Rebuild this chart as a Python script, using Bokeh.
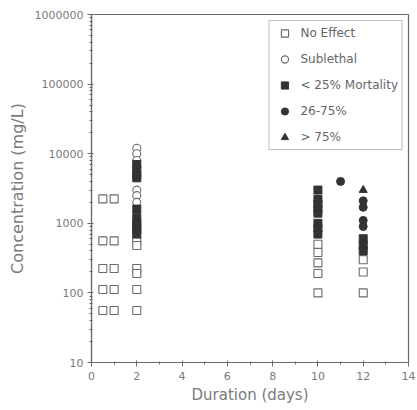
from bokeh.plotting import figure
from bokeh.models import Range1d, FixedTicker, BasicTickFormatter, Legend, LegendItem
from bokeh.embed import file_html
from bokeh.resources import INLINE

# --- data ---
no_effect_x = [0.5, 0.5, 0.5, 0.5, 0.5, 1, 1, 1, 1, 1, 2, 2, 2, 2, 2, 2, 10, 10, 10, 10, 10, 12, 12, 12]
no_effect_y = [2240, 560, 224, 112, 56, 2240, 560, 224, 112, 56, 560, 480, 224, 190, 112, 56,
               500, 380, 270, 190, 100, 300, 200, 100]
sublethal_x = [2, 2, 2, 2, 2, 2]
sublethal_y = [12000, 10000, 8000, 3000, 2500, 2000]
lt25_x = [2, 2, 2, 2, 2, 2, 2, 2, 2, 2, 10, 10, 10, 10, 10, 10, 10, 10, 12, 12, 12]
lt25_y = [7000, 6000, 5000, 4500, 1600, 1200, 1000, 900, 800, 700,
          3000, 2200, 1900, 1600, 1400, 1000, 850, 700, 600, 480, 400]
mid_x = [11, 12, 12, 12, 12]
mid_y = [4000, 2100, 1700, 1100, 900]
high_x = [12]
high_y = [3000]

x_ticks = [0, 2, 4, 6, 8, 10, 12, 14]
x_minor = [1, 3, 5, 7, 9, 11, 13]
y_ticks = [10, 100, 1000, 10000, 100000, 1000000]
y_minor = [m * d for d in [10, 100, 1000, 10000, 100000] for m in range(2, 10)]

FONT = "DejaVu Sans"
AX = "#6a6a6a"
TXT = "#7a7a7a"

p = figure(width=417, height=410, y_axis_type="log", output_backend="svg",
           toolbar_location=None, x_range=Range1d(0, 14), y_range=Range1d(10, 1000000),
           min_border_left=91, min_border_right=9, min_border_top=14, min_border_bottom=48)

p.xgrid.visible = False
p.ygrid.visible = False
p.outline_line_color = AX
p.outline_line_width = 1.2
p.background_fill_color = "white"
p.border_fill_color = "white"

p.xaxis.ticker = FixedTicker(ticks=x_ticks, minor_ticks=x_minor)
p.yaxis.ticker = FixedTicker(ticks=y_ticks, minor_ticks=y_minor)
p.yaxis.formatter = BasicTickFormatter(use_scientific=False)

for ax in (p.xaxis, p.yaxis):
    ax.axis_line_color = AX
    ax.axis_line_width = 1.2
    ax.major_tick_line_color = AX
    ax.minor_tick_line_color = AX
    ax.major_tick_in = 2
    ax.major_tick_out = 4
    ax.minor_tick_in = 1
    ax.minor_tick_out = 2
    ax.major_label_text_font = FONT
    ax.major_label_text_font_size = "11px"
    ax.major_label_text_color = TXT
    ax.axis_label_text_font = FONT
    ax.axis_label_text_font_style = "normal"
    ax.axis_label_text_color = TXT

p.xaxis.axis_label = "Duration (days)"
p.yaxis.axis_label = "Concentration (mg/L)"
p.xaxis.axis_label_text_font_size = "15px"
p.yaxis.axis_label_text_font_size = "16px"
p.xaxis.major_label_standoff = 5
p.xaxis.axis_label_standoff = 3
p.yaxis.major_label_standoff = 4
p.yaxis.axis_label_standoff = 5

r1 = p.scatter(no_effect_x, no_effect_y, marker="square", size=8, fill_color="white",
               line_color="#6a6a6a", line_width=1.1)
r2 = p.scatter(sublethal_x, sublethal_y, marker="circle", size=8, fill_color="white",
               line_color="#6a6a6a", line_width=1.1)
r3 = p.scatter(lt25_x, lt25_y, marker="square", size=8, fill_color="#333333",
               line_color="#333333", line_width=1)
r4 = p.scatter(mid_x, mid_y, marker="circle", size=8, fill_color="#333333",
               line_color="#333333", line_width=1)
r5 = p.scatter(high_x, high_y, marker="triangle", size=8, fill_color="#333333",
               line_color="#333333", line_width=1)

legend = Legend(items=[
    LegendItem(label="No Effect", renderers=[r1]),
    LegendItem(label="Sublethal", renderers=[r2]),
    LegendItem(label="< 25% Mortality", renderers=[r3]),
    LegendItem(label="26-75%", renderers=[r4]),
    LegendItem(label="> 75%", renderers=[r5]),
], location="top_right")
legend.margin = 6
legend.padding = 3
legend.spacing = 8
legend.label_height = 18
legend.glyph_height = 18
legend.glyph_width = 24
legend.label_standoff = 4
legend.label_text_font = FONT
legend.label_text_font_size = "12px"
legend.label_text_color = "#666666"
legend.border_line_color = "#808080"
legend.border_line_width = 1.2
legend.background_fill_color = "white"
legend.background_fill_alpha = 1
p.add_layout(legend)

open("out.html", "w").write(file_html(p, INLINE))
